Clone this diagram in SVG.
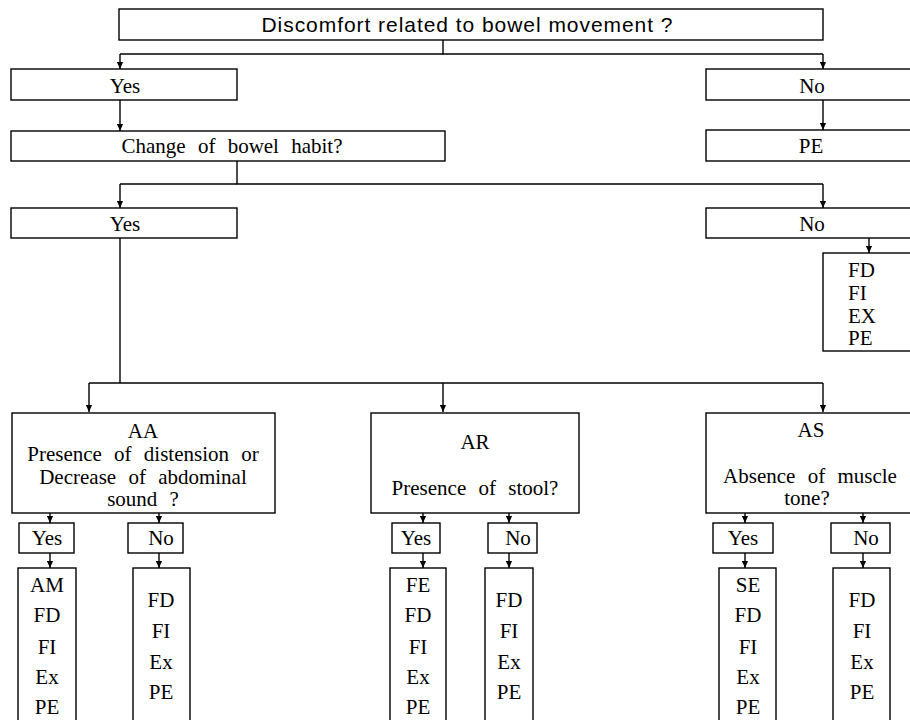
<svg xmlns="http://www.w3.org/2000/svg" width="910" height="720" viewBox="0 0 910 720">
<defs>
<marker id="arr" viewBox="0 0 8 8" refX="8" refY="4" markerWidth="7" markerHeight="7" markerUnits="userSpaceOnUse" orient="auto">
<path d="M0,0.5 L8,4 L0,7.5 z" fill="#000"/>
</marker>
<style>
rect{fill:#fff;stroke:#000;stroke-width:1.4}
.c path{fill:none;stroke:#000;stroke-width:1.4}
.c .a{marker-end:url(#arr)}
text{font-family:"Liberation Serif","Times New Roman",serif;font-size:21px;fill:#000;text-anchor:middle}
.ws{word-spacing:7px}
.sans{font-family:"Liberation Sans",Arial,sans-serif;font-size:21px}
.l{text-anchor:start}
</style>
</defs>
<rect width="910" height="720" style="fill:#fff;stroke:none"/>

<g class="c" id="connectors">
<path d="M443,40 V54 H823"/>
<path d="M443,54 H120"/>
<path class="a" d="M120,54 V69"/>
<path class="a" d="M823,54 V69"/>
<path class="a" d="M120,100 V131"/>
<path class="a" d="M823,100 V130"/>
<path d="M237,161 V184 H823"/>
<path d="M237,184 H120"/>
<path class="a" d="M120,184 V208"/>
<path class="a" d="M823,184 V208"/>
<path class="a" d="M869,238 V253"/>
<path d="M120,238 V383"/>
<path d="M89,383 H823"/>
<path class="a" d="M89,383 V412"/>
<path class="a" d="M443,383 V412"/>
<path class="a" d="M823,383 V412"/>
<path class="a" d="M50,513 V523"/>
<path class="a" d="M159,513 V523"/>
<path class="a" d="M50,553 V568"/>
<path class="a" d="M159,553 V568"/>
<path class="a" d="M423,513 V523"/>
<path class="a" d="M509,513 V523"/>
<path class="a" d="M423,553 V568"/>
<path class="a" d="M509,553 V568"/>
<path class="a" d="M745,513 V523"/>
<path class="a" d="M863,513 V523"/>
<path class="a" d="M745,553 V568"/>
<path class="a" d="M863,553 V568"/>
</g>

<g id="q1"><rect x="119" y="9" width="704" height="31"/><text class="sans" x="467" y="32" textLength="411" lengthAdjust="spacing">Discomfort related to bowel movement ?</text></g>
<g id="yes1"><rect x="11" y="69" width="226" height="31"/><text x="125" y="93">Yes</text></g>
<g id="no1"><rect x="706" y="69" width="210" height="31"/><text x="812" y="93">No</text></g>
<g id="q2"><rect x="11" y="131" width="434" height="30"/><text class="ws" x="232" y="153">Change of bowel habit?</text></g>
<g id="pe1"><rect x="706" y="130" width="210" height="31"/><text x="811" y="153">PE</text></g>
<g id="yes2"><rect x="11" y="208" width="226" height="30"/><text x="125" y="231">Yes</text></g>
<g id="no2"><rect x="706" y="208" width="210" height="30"/><text x="812" y="231">No</text></g>
<g id="res0"><rect x="823" y="253" width="93" height="98"/>
<text class="l" x="848" y="277">FD</text><text class="l" x="848" y="300">FI</text><text class="l" x="848" y="323">EX</text><text class="l" x="848" y="345">PE</text></g>

<g id="aa"><rect x="12" y="413" width="263" height="100"/>
<text x="143" y="438">AA</text>
<text class="ws" x="143" y="461">Presence of distension or</text>
<text class="ws" x="143" y="484">Decrease of abdominal</text>
<text class="ws" x="143" y="506">sound ?</text></g>
<g id="ar"><rect x="371" y="413" width="208" height="100"/>
<text x="475" y="449">AR</text>
<text class="ws" x="475" y="495">Presence of stool?</text></g>
<g id="as"><rect x="706" y="413" width="210" height="100"/>
<text x="811" y="437">AS</text>
<text class="ws" x="810" y="483">Absence of muscle</text>
<text x="807" y="505">tone?</text></g>

<g id="aa-yes"><rect x="19" y="523" width="55" height="30"/><text x="47" y="545">Yes</text></g>
<g id="aa-no"><rect x="128" y="523" width="55" height="30"/><text x="161" y="545">No</text></g>
<g id="ar-yes"><rect x="392" y="523" width="48" height="30"/><text x="416" y="545">Yes</text></g>
<g id="ar-no"><rect x="488" y="523" width="49" height="30"/><text x="518" y="545">No</text></g>
<g id="as-yes"><rect x="713" y="523" width="60" height="30"/><text x="743" y="545">Yes</text></g>
<g id="as-no"><rect x="831" y="523" width="59" height="30"/><text x="866" y="545">No</text></g>

<g id="aa-yes-res"><rect x="18" y="568" width="58" height="160"/>
<text x="47" y="592">AM</text><text x="47" y="622">FD</text><text x="47" y="654">FI</text><text x="47" y="684">Ex</text><text x="47" y="714">PE</text></g>
<g id="aa-no-res"><rect x="133" y="568" width="57" height="160"/>
<text x="161" y="607">FD</text><text x="161" y="638">FI</text><text x="161" y="669">Ex</text><text x="161" y="699">PE</text></g>
<g id="ar-yes-res"><rect x="390" y="568" width="56" height="160"/>
<text x="418" y="592">FE</text><text x="418" y="622">FD</text><text x="418" y="654">FI</text><text x="418" y="684">Ex</text><text x="418" y="714">PE</text></g>
<g id="ar-no-res"><rect x="485" y="568" width="48" height="160"/>
<text x="509" y="607">FD</text><text x="509" y="638">FI</text><text x="509" y="669">Ex</text><text x="509" y="699">PE</text></g>
<g id="as-yes-res"><rect x="719" y="568" width="57" height="160"/>
<text x="748" y="592">SE</text><text x="748" y="622">FD</text><text x="748" y="654">FI</text><text x="748" y="684">Ex</text><text x="748" y="714">PE</text></g>
<g id="as-no-res"><rect x="833" y="568" width="57" height="160"/>
<text x="862" y="607">FD</text><text x="862" y="638">FI</text><text x="862" y="669">Ex</text><text x="862" y="699">PE</text></g>
</svg>
